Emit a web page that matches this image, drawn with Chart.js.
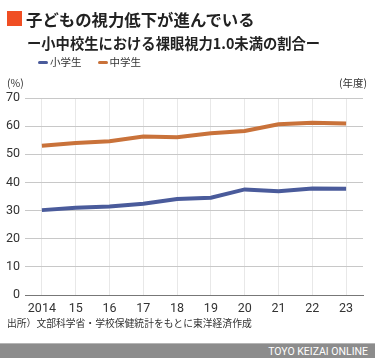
<!DOCTYPE html>
<html><head><meta charset="utf-8">
<script src="https://cdn.jsdelivr.net/npm/chart.js@4/dist/chart.umd.min.js"></script>
<style>
html,body{margin:0;padding:0;background:#fff;}
#wrap{position:relative;width:375px;height:358px;overflow:hidden;font-family:"Noto Sans CJK JP","Noto Sans",sans-serif;color:#333;}
canvas{position:absolute;left:0;top:0;}
.abs{position:absolute;white-space:nowrap;}
#sq{left:7px;top:11px;width:15px;height:15px;background:#f04e23;}
#title{left:26px;top:7px;font-size:16.4px;font-weight:bold;line-height:24px;color:#222;}
#sub{left:27px;top:33px;font-size:14.3px;font-weight:bold;line-height:20px;color:#222;}
#legend{left:38px;top:55px;font-size:10.5px;line-height:14px;}
.lg{display:inline-block;width:10px;height:3px;border-radius:2px;vertical-align:middle;margin-right:2px;position:relative;top:-1px;}
#pct{left:7px;top:76px;font-size:10.5px;line-height:14px;}
#nendo{right:8px;top:76px;font-size:10.5px;line-height:14px;}
#src{left:7px;top:316px;font-size:9.8px;line-height:14px;}
#foot{left:0;top:343px;width:375px;height:15px;background:#8c8c8c;border-top:1px solid #b5b5b5;}
#foot span{position:absolute;right:7px;top:0;font-family:Roboto,sans-serif;font-size:10.5px;line-height:15px;color:#fff;}
</style></head>
<body><div id="wrap">
<canvas id="c" width="375" height="358"></canvas>
<div id="sq" class="abs"></div>
<div id="title" class="abs">子どもの視力低下が進んでいる</div>
<div id="sub" class="abs">ー小中校生における裸眼視力1.0未満の割合ー</div>
<div id="legend" class="abs"><span class="lg" style="background:#4a5b9b"></span>小学生<span style="display:inline-block;width:16px"></span><span class="lg" style="background:#c9723a"></span>中学生</div>
<div id="pct" class="abs">(%)</div>
<div id="nendo" class="abs">(年度)</div>
<div id="src" class="abs">出所）文部科学省・学校保健統計をもとに東洋経済作成</div>
<div id="foot" class="abs"><span>TOYO KEIZAI ONLINE</span></div>
</div>
<script>
const years = ["2014","15","16","17","18","19","20","21","22","23"];
const elementary = [30.16,30.97,31.46,32.46,34.10,34.57,37.52,36.87,37.88,37.79];
const juniorHigh = [53.04,54.05,54.63,56.33,56.04,57.47,58.29,60.66,61.23,60.93];
const yTicks = [0,10,20,30,40,50,60,70];

new Chart(document.getElementById('c'), {
  type: 'line',
  data: {
    labels: years,
    datasets: [
      {label:'小学生', data: elementary, borderColor:'#4a5b9b', borderWidth:4, pointRadius:0, tension:0, borderCapStyle:'butt'},
      {label:'中学生', data: juniorHigh, borderColor:'#c9723a', borderWidth:4, pointRadius:0, tension:0, borderCapStyle:'butt'}
    ]
  },
  options: {
    responsive:false, animation:false, devicePixelRatio:1,
    layout:{padding:{top:98,left:0,right:12,bottom:0}},
    plugins:{legend:{display:false}, tooltip:{enabled:false}},
    scales:{
      x:{
        offset:true,
        grid:{offset:false, color:'#e8e8e8', drawTicks:false, lineWidth:1},
        border:{display:true, color:'#777', width:1},
        ticks:{color:'#333', font:{family:'Roboto', size:12.5}, padding:6, maxRotation:0, autoSkip:false},
        afterFit(s){ s.height = 63; }
      },
      y:{
        min:0, max:70,
        afterBuildTicks(s){ s.ticks = yTicks.map(v=>({value:v})); },
        grid:{color:'#c8c8c8', drawTicks:false, lineWidth:1},
        border:{display:false},
        ticks:{color:'#333', font:{family:'Roboto', size:12.5}, padding:5},
        afterFit(s){ s.width = 25; }
      }
    }
  }
});
</script>
</body></html>
